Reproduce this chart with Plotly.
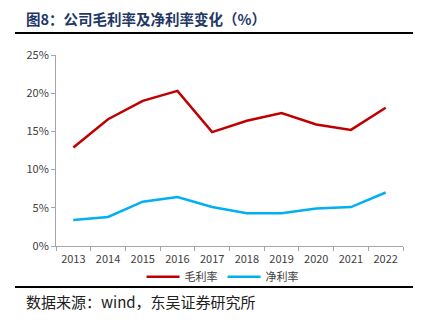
import plotly.graph_objects as go

years = ["2013", "2014", "2015", "2016", "2017", "2018", "2019", "2020", "2021", "2022"]
gross_margin = [12.9, 16.6, 19.0, 20.3, 14.9, 16.4, 17.4, 15.9, 15.2, 18.1]
net_margin = [3.4, 3.8, 5.8, 6.4, 5.1, 4.3, 4.3, 4.9, 5.1, 7.0]

fig = go.Figure()
fig.add_trace(go.Scatter(x=years, y=[v / 100 for v in gross_margin], mode="lines", name="毛利率",
                         line=dict(color="#C00000", width=2.5)))
fig.add_trace(go.Scatter(x=years, y=[v / 100 for v in net_margin], mode="lines", name="净利率",
                         line=dict(color="#00B0F0", width=2.5)))

font_cjk = "Noto Sans CJK SC"
fig.update_layout(
    width=429, height=322,
    margin=dict(l=56, r=26, t=55, b=76),
    paper_bgcolor="white", plot_bgcolor="white",
    showlegend=True,
    legend=dict(orientation="h", x=0.48, xanchor="center", y=-0.085, yanchor="top",
                bgcolor="rgba(0,0,0,0)",
                font=dict(family=font_cjk, size=11, color="#404040"),
                itemwidth=33, tracegroupgap=0),
    xaxis=dict(type="category", range=[-0.5, 9.5], showgrid=False, showline=True,
               linecolor="#A6A6A6", linewidth=1,
               ticks="outside", tickson="boundaries", ticklen=4, tickcolor="#A6A6A6",
               ticklabelstandoff=3,
               tickfont=dict(family=font_cjk, size=11, color="#404040")),
    yaxis=dict(range=[0, 0.25], dtick=0.05, tickformat=".0%", showgrid=False, showline=True,
               linecolor="#A6A6A6", linewidth=1, ticks="outside", ticklen=4, tickcolor="#A6A6A6",
               tickfont=dict(family=font_cjk, size=11, color="#404040"), zeroline=False),
    font=dict(family=font_cjk),
)

fig.add_annotation(text="<b>图8：公司毛利率及净利率变化（%）</b>", xref="paper", yref="paper",
                   x=(24 - 56) / 347, xanchor="left", y=1 + (55 - 18) / 191,
                   yanchor="middle", showarrow=False,
                   font=dict(family=font_cjk, size=14.5, color="#1F3864"))
fig.add_shape(type="line", xref="paper", yref="paper",
              x0=(15 - 56) / 347, x1=(413 - 56) / 347,
              y0=1 + (55 - 33) / 191, y1=1 + (55 - 33) / 191,
              line=dict(color="black", width=2))
fig.add_shape(type="line", xref="paper", yref="paper",
              x0=(15 - 56) / 347, x1=(413 - 56) / 347,
              y0=-(287 - 246) / 191, y1=-(287 - 246) / 191,
              line=dict(color="black", width=2))
fig.add_annotation(text="数据来源：wind，东吴证券研究所", xref="paper", yref="paper",
                   x=(24 - 56) / 347, xanchor="left", y=-(301 - 246) / 191, yanchor="middle",
                   showarrow=False, font=dict(family=font_cjk, size=15, color="#202020"))

fig.write_html("out.html")
